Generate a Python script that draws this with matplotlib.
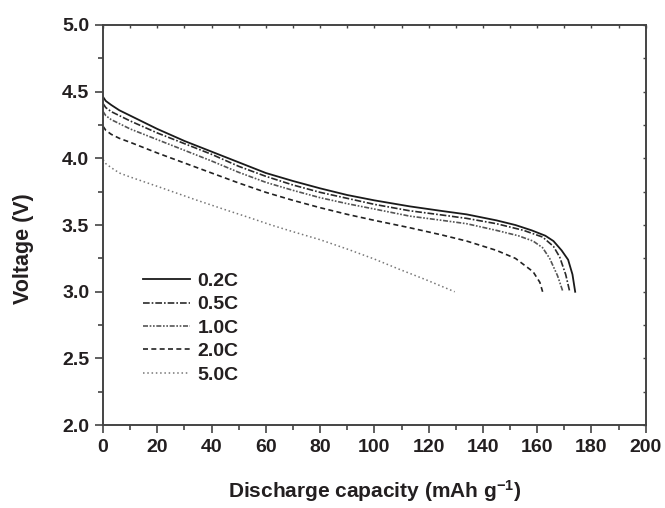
import numpy as np
import matplotlib
matplotlib.use("Agg")
import matplotlib.pyplot as plt
from matplotlib.ticker import MultipleLocator, FormatStrFormatter, NullFormatter

plt.rcParams['font.family'] = ['Liberation Sans', 'DejaVu Sans']
plt.rcParams['font.weight'] = 'bold'
plt.rcParams['mathtext.default'] = 'regular'

# discharge curves: capacity (mAh/g) vs voltage (V)
cap_02 = [0, 1, 3, 6, 10, 20, 30, 40, 50, 60, 70, 80, 90, 100, 113, 125, 134, 145, 152, 158, 163, 166, 169, 171.4, 173, 174]
v_02 = [4.46, 4.43, 4.40, 4.36, 4.32, 4.22, 4.13, 4.05, 3.97, 3.89, 3.83, 3.775, 3.725, 3.685, 3.64, 3.605, 3.58, 3.535, 3.50, 3.46, 3.42, 3.38, 3.31, 3.24, 3.13, 3.0]

cap_05 = [0, 1, 3, 6, 10, 20, 30, 40, 50, 60, 70, 80, 90, 100, 113, 125, 134, 145, 155, 162, 166, 168.3, 170.5, 172]
v_05 = [4.41, 4.38, 4.35, 4.32, 4.28, 4.19, 4.11, 4.03, 3.94, 3.865, 3.80, 3.745, 3.70, 3.655, 3.607, 3.575, 3.55, 3.51, 3.46, 3.41, 3.34, 3.26, 3.13, 3.0]

cap_10 = [0, 1, 3, 6, 10, 20, 30, 40, 50, 60, 70, 80, 90, 100, 113, 125, 134, 145, 153, 158.5, 162, 164.6, 167.5, 169.5]
v_10 = [4.35, 4.32, 4.29, 4.26, 4.22, 4.14, 4.06, 3.98, 3.895, 3.82, 3.76, 3.705, 3.66, 3.62, 3.567, 3.535, 3.51, 3.46, 3.42, 3.38, 3.33, 3.25, 3.12, 3.0]

cap_20 = [0, 1, 3, 6, 10, 20, 30, 40, 50, 60, 70, 80, 90, 100, 113, 125, 134, 145, 152, 158.5, 161, 162]
v_20 = [4.24, 4.21, 4.18, 4.15, 4.12, 4.04, 3.965, 3.89, 3.815, 3.745, 3.685, 3.63, 3.58, 3.535, 3.48, 3.425, 3.38, 3.31, 3.25, 3.15, 3.07, 3.0]

cap_50 = [0, 1, 3, 6, 10, 20, 34, 45, 54, 62, 70, 80, 90, 100, 109, 119, 129.6]
v_50 = [3.99, 3.96, 3.93, 3.89, 3.86, 3.79, 3.69, 3.615, 3.555, 3.50, 3.45, 3.39, 3.32, 3.245, 3.17, 3.09, 3.0]

labels = ['0.2C', '0.5C', '1.0C', '2.0C', '5.0C']
txt = '#231f20'
axc = '#444444'

fig = plt.figure(figsize=(6.65, 5.08), dpi=100)
ax = fig.add_axes([0.155, 0.163, 0.816, 0.788])

ax.plot(cap_02, v_02, color='#1a1a1a', lw=1.3, ls='-', label=labels[0])
ax.plot(cap_05, v_05, color='#2a2a2a', lw=1.2, ls=(0, (4, 1.2, 1, 1.2)), label=labels[1])
ax.plot(cap_10, v_10, color='#555555', lw=1.2, ls=(0, (3, 1, 1, 1, 1, 1)), label=labels[2])
ax.plot(cap_20, v_20, color='#222222', lw=1.2, ls=(0, (3, 2)), label=labels[3])
ax.plot(cap_50, v_50, color='#777777', lw=1.1, ls=(0, (1, 1.8)), label=labels[4])

ax.set_xlim(0, 200)
ax.set_ylim(2.0, 5.0)
ax.xaxis.set_major_locator(MultipleLocator(20))
ax.xaxis.set_minor_locator(MultipleLocator(10))
ax.yaxis.set_major_locator(MultipleLocator(0.5))
ax.yaxis.set_minor_locator(MultipleLocator(0.25))
ax.yaxis.set_major_formatter(FormatStrFormatter('%.1f'))

for s in ax.spines.values():
    s.set_color(axc)
    s.set_linewidth(1.4)
ax.tick_params(which='both', direction='out', colors=axc, labelcolor=txt,
               labelsize=14, width=1.2, pad=4)
ax.tick_params(which='major', length=6)
ax.tick_params(which='minor', length=3.5)
for t in ax.get_xticklabels() + ax.get_yticklabels():
    t.set_fontweight('bold')

# small inward ticks on the top and right frame
top = ax.secondary_xaxis('top')
top.xaxis.set_major_locator(MultipleLocator(20))
top.xaxis.set_minor_locator(MultipleLocator(10))
top.xaxis.set_major_formatter(NullFormatter())
top.tick_params(which='both', direction='in', length=2.5, width=1, colors=axc)
top.spines['top'].set_visible(False)
right = ax.secondary_yaxis('right')
right.yaxis.set_major_locator(MultipleLocator(0.5))
right.yaxis.set_minor_locator(MultipleLocator(0.25))
right.yaxis.set_major_formatter(NullFormatter())
right.tick_params(which='both', direction='in', length=2.5, width=1, colors=axc)
right.spines['right'].set_visible(False)

ax.set_xlabel('Discharge capacity (mAh g$^{-1}$)', fontsize=15, fontweight='bold',
              color=txt, labelpad=16)
ax.set_ylabel('Voltage (V)', fontsize=15.5, fontweight='bold', color=txt)
ax.yaxis.set_label_coords(-0.128, 0.44)

leg = ax.legend(loc='upper left', bbox_to_anchor=(0.074, 0.382), frameon=False,
                borderpad=0, borderaxespad=0,
                handlelength=2.4, handletextpad=0.4, labelspacing=0.3,
                prop={'size': 14, 'weight': 'bold'})
for t in leg.get_texts():
    t.set_color(txt)

fig.savefig('out.png', dpi=100)
